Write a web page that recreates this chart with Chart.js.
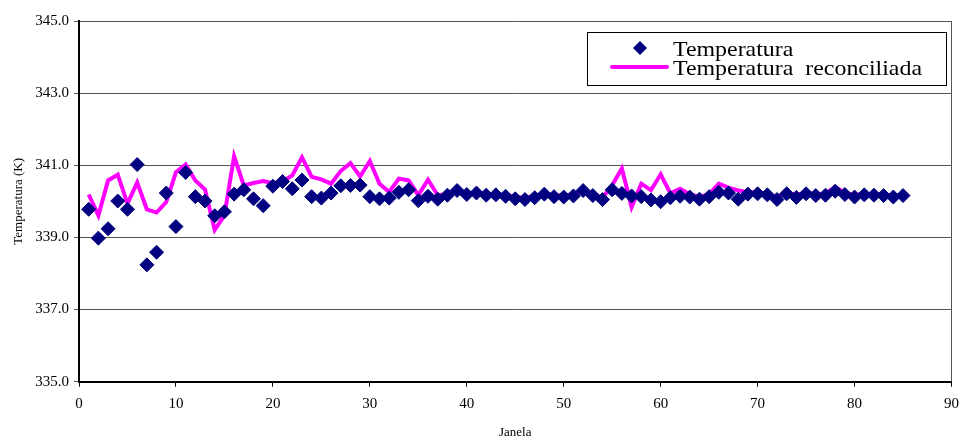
<!DOCTYPE html>
<html>
<head>
<meta charset="utf-8">
<script src="https://cdn.jsdelivr.net/npm/chart.js@4/dist/chart.umd.min.js"></script>
<style>
  html, body { margin: 0; padding: 0; background: #fff; }
  #wrap { width: 961px; height: 440px; }
</style>
</head>
<body>
<div id="wrap"><canvas id="c" width="961" height="440"></canvas></div>
<script>
// Janela (window index)
const janela = [
  1, 2, 3, 4, 5, 6, 7, 8, 9, 10, 11, 12, 13, 14, 15, 16, 17, 18, 19, 20,
  21, 22, 23, 24, 25, 26, 27, 28, 29, 30, 31, 32, 33, 34, 35, 36, 37, 38, 39, 40,
  41, 42, 43, 44, 45, 46, 47, 48, 49, 50, 51, 52, 53, 54, 55, 56, 57, 58, 59, 60,
  61, 62, 63, 64, 65, 66, 67, 68, 69, 70, 71, 72, 73, 74, 75, 76, 77, 78, 79, 80,
  81, 82, 83, 84, 85
];

// Measured temperature (K)
const temperatura = [
  339.78, 338.98, 339.24, 340.01, 339.78, 341.02, 338.24, 338.59, 340.23, 339.30,
  340.80, 340.13, 340.01, 339.60, 339.71, 340.20, 340.32, 340.07, 339.88, 340.42,
  340.55, 340.35, 340.59, 340.13, 340.09, 340.23, 340.43, 340.44, 340.45, 340.13,
  340.07, 340.09, 340.25, 340.32, 340.02, 340.14, 340.06, 340.17, 340.30, 340.19,
  340.23, 340.17, 340.18, 340.14, 340.07, 340.05, 340.10, 340.20, 340.13, 340.12,
  340.15, 340.30, 340.16, 340.05, 340.32, 340.22, 340.15, 340.13, 340.04, 339.99,
  340.10, 340.14, 340.12, 340.06, 340.13, 340.25, 340.23, 340.06, 340.20, 340.21,
  340.18, 340.05, 340.21, 340.11, 340.21, 340.16, 340.17, 340.28, 340.19, 340.12,
  340.18, 340.17, 340.16, 340.12, 340.16
];

// Reconciled temperature (K)
const temperaturaReconciliada = [
  340.19, 339.61, 340.58, 340.74, 339.94, 340.52, 339.78, 339.69, 339.98, 340.81,
  341.02, 340.58, 340.33, 339.21, 339.61, 341.25, 340.44, 340.51, 340.56, 340.50,
  340.55, 340.72, 341.22, 340.68, 340.61, 340.49, 340.84, 341.06, 340.69, 341.12,
  340.49, 340.26, 340.63, 340.58, 340.17, 340.60, 340.17, 340.20, 340.30, 340.20,
  340.25, 340.20, 340.20, 340.18, 340.12, 340.10, 340.15, 340.22, 340.17, 340.16,
  340.20, 340.30, 340.20, 340.10, 340.45, 340.91, 339.84, 340.49, 340.31, 340.75,
  340.22, 340.35, 340.20, 340.12, 340.20, 340.49, 340.38, 340.30, 340.25, 340.25,
  340.22, 340.12, 340.25, 340.18, 340.25, 340.20, 340.22, 340.40, 340.24, 340.18,
  340.22, 340.20, 340.20, 340.16, 340.18
];

const seriesLabels = ['Temperatura', 'Temperatura  reconciliada'];
const xTitle = 'Janela';
const yTitle = 'Temperatura (K)';

const SERIF = "'Liberation Serif', 'Times New Roman', Times, serif";
Chart.defaults.font.family = SERIF;
Chart.defaults.color = '#000';

const toPoints = (ys) => janela.map((x, i) => ({ x: x, y: ys[i] }));

// Right edge of the plot frame
const frameEdge = {
  id: 'frameEdge',
  beforeDatasetsDraw(chart) {
    const { ctx, chartArea: a } = chart;
    ctx.save();
    ctx.strokeStyle = '#555';
    ctx.lineWidth = 1;
    ctx.beginPath();
    ctx.moveTo(Math.round(a.right) - 0.5, a.top);
    ctx.lineTo(Math.round(a.right) - 0.5, a.bottom);
    ctx.stroke();
    ctx.restore();
  }
};

// Boxed legend drawn inside the plot, top right
const boxedLegend = {
  id: 'boxedLegend',
  afterDraw(chart) {
    const { ctx } = chart;
    const ds = chart.data.datasets;
    const box = { left: 587, top: 32, right: 946, bottom: 85 };
    ctx.save();
    ctx.fillStyle = '#fff';
    ctx.fillRect(box.left, box.top, box.right - box.left, box.bottom - box.top);
    ctx.strokeStyle = '#000';
    ctx.lineWidth = 1;
    ctx.strokeRect(box.left + 0.5, box.top + 0.5, box.right - box.left, box.bottom - box.top);

    // marker sample
    const mx = 640, my = 48, r = 7;
    ctx.fillStyle = ds[0].backgroundColor;
    ctx.beginPath();
    ctx.moveTo(mx - r, my);
    ctx.lineTo(mx, my - r);
    ctx.lineTo(mx + r, my);
    ctx.lineTo(mx, my + r);
    ctx.closePath();
    ctx.fill();

    // line sample
    ctx.strokeStyle = ds[1].borderColor;
    ctx.lineWidth = 4;
    ctx.lineCap = 'round';
    ctx.beginPath();
    ctx.moveTo(612, 67);
    ctx.lineTo(667, 67);
    ctx.stroke();

    // labels (wide serif face)
    ctx.fillStyle = '#000';
    ctx.font = '21px ' + SERIF;
    ctx.textBaseline = 'alphabetic';
    ctx.textAlign = 'left';
    const stretch = 249 / ctx.measureText(ds[1].label).width;
    [[ds[0].label, 56], [ds[1].label, 75]].forEach(([txt, y]) => {
      ctx.save();
      ctx.translate(673, y);
      ctx.scale(stretch, 1);
      ctx.fillText(txt, 0, 0);
      ctx.restore();
    });
    ctx.restore();
  }
};

new Chart(document.getElementById('c'), {
  type: 'scatter',
  data: {
    datasets: [
      {
        label: seriesLabels[0],
        data: toPoints(temperatura),
        showLine: false,
        pointStyle: 'rectRot',
        pointRadius: 7,
        pointHoverRadius: 7,
        backgroundColor: '#000080',
        borderColor: '#000080',
        borderWidth: 1
      },
      {
        label: seriesLabels[1],
        data: toPoints(temperaturaReconciliada),
        showLine: true,
        borderColor: '#FF00FF',
        backgroundColor: '#FF00FF',
        borderWidth: 4,
        pointRadius: 0,
        pointHoverRadius: 0,
        tension: 0,
        fill: false
      }
    ]
  },
  options: {
    responsive: false,
    animation: false,
    devicePixelRatio: 1,
    layout: { padding: { top: 21, right: 9.5, bottom: 0, left: 0 } },
    plugins: {
      legend: { display: false },
      tooltip: { enabled: false }
    },
    scales: {
      x: {
        type: 'linear',
        min: 0,
        max: 90,
        ticks: { stepSize: 10, font: { size: 15 }, padding: 8, color: '#000' },
        grid: { drawOnChartArea: false, drawTicks: true, tickLength: 5, color: '#000' },
        border: { color: '#000', width: 2 },
        title: { display: true, text: xTitle, font: { size: 13 }, color: '#000', padding: { top: 0, bottom: 0 } },
        afterFit(scale) {
          scale.height = 58.3;
          scale.paddingLeft = 0;
          scale.paddingRight = 0;
        }
      },
      y: {
        type: 'linear',
        min: 335,
        max: 345,
        ticks: {
          stepSize: 2,
          font: { size: 15 },
          padding: 5,
          color: '#000',
          callback: (v) => Number(v).toFixed(1)
        },
        grid: { color: '#555', lineWidth: 1, tickLength: 5 },
        border: { color: '#000', width: 2 },
        title: { display: true, text: yTitle, font: { size: 13 }, color: '#000', padding: { top: 10.7, bottom: 0 } },
        afterFit(scale) { scale.width = 79; }
      }
    }
  },
  plugins: [frameEdge, boxedLegend]
});
</script>
</body>
</html>
